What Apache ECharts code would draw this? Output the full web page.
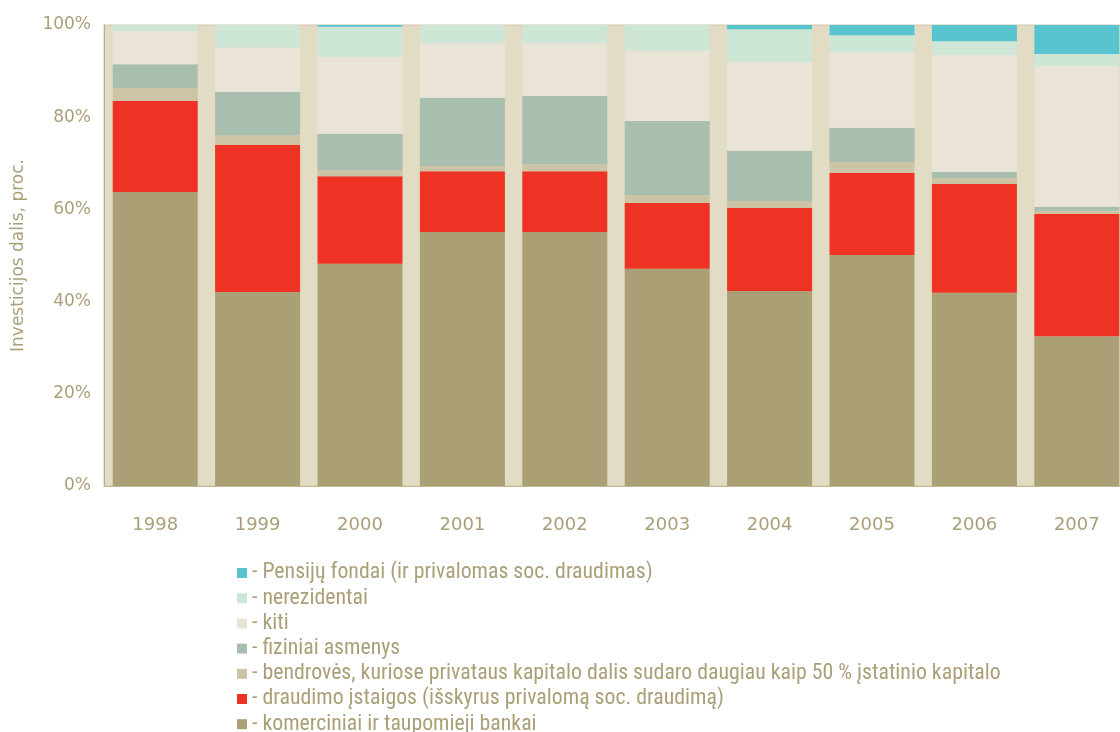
<!DOCTYPE html>
<html><head><meta charset="utf-8">
<script src="https://cdn.jsdelivr.net/npm/echarts@6/dist/echarts.min.js"></script>
<style>html,body{margin:0;padding:0;background:#fff}#c{width:1120px;height:732px}</style>
</head><body><div id="c"></div>
<script>
const years = ['1998','1999','2000','2001','2002','2003','2004','2005','2006','2007'];
const bankai      = [63.8, 42.1, 48.2, 55.1, 55.1, 47.1, 42.3, 50.1, 41.9, 32.5];
const draudimo    = [19.7, 31.9, 19.0, 13.2, 13.2, 14.3, 18.0, 17.8, 23.6, 26.5];
const bendroves   = [ 2.8,  2.1,  1.3,  1.1,  1.5,  1.7,  1.5,  2.4,  1.3,  0.7];
const fiziniai    = [ 5.2,  9.4,  7.9, 14.8, 14.8, 16.1, 10.9,  7.4,  1.3,  0.9];
const kiti        = [ 7.2,  9.6, 16.7, 11.9, 11.5, 15.2, 19.3, 16.4, 25.4, 30.5];
const nerezidentai= [ 1.3,  4.9,  6.5,  3.9,  3.9,  5.6,  7.1,  3.7,  3.0,  2.6];
const pensiju     = [ 0.0,  0.0,  0.4,  0.0,  0.0,  0.0,  0.9,  2.2,  3.5,  6.3];
const yTicks = ['0%','20%','40%','60%','80%','100%'];

const names = {
  pens: 'Pensijų fondai (ir privalomas soc. draudimas)',
  nerez: 'nerezidentai',
  kiti: 'kiti',
  fiz: 'fiziniai asmenys',
  bendr: 'bendrovės, kuriose privataus kapitalo dalis sudaro daugiau kaip 50 % įstatinio kapitalo',
  draud: 'draudimo įstaigos (išskyrus privalomą soc. draudimą)',
  bank: 'komerciniai ir taupomieji bankai'
};
const txt = '#aa9f77';
const mk = (name, data, color) => ({
  name, type: 'bar', stack: 'a', data, barCategoryGap: '17%',
  itemStyle: { color }, emphasis: { disabled: true }
});
const chart = echarts.init(document.getElementById('c'));
chart.setOption({
  animation: false,
  grid: { left: 104, width: 1024, top: 25, bottom: 246, outerBoundsMode: 'none', containLabel: false,
    show: true, backgroundColor: '#e2dcc5', borderColor: '#cfc6ab', borderWidth: 1 },
  legend: {
    orient: 'vertical', left: 232, top: 557, height: 200, itemWidth: 10, itemHeight: 10, itemGap: 3.2,
    icon: 'rect',
    data: [names.pens, names.nerez, names.kiti, names.fiz, names.bendr, names.draud, names.bank],
    formatter: n => '- ' + n,
    textStyle: { color: txt, fontSize: 21.8, lineHeight: 20, fontFamily: '"Roboto Condensed", "Liberation Sans Narrow", sans-serif' }
  },
  xAxis: {
    type: 'category', data: years,
    axisLine: { lineStyle: { color: '#c3b991', width: 1 } },
    axisTick: { show: false },
    axisLabel: { color: txt, fontSize: 18, margin: 30, fontFamily: '"DejaVu Sans", sans-serif' }
  },
  yAxis: {
    type: 'value', min: 0, max: 100, interval: 20,
    name: 'Investicijos dalis, proc.', nameLocation: 'middle', nameGap: 77,
    nameTextStyle: { color: txt, fontSize: 17, fontFamily: '"DejaVu Sans", sans-serif' },
    axisLine: { show: true, lineStyle: { color: '#b8ad85', width: 1 } },
    axisTick: { show: false },
    splitLine: { show: false },
    axisLabel: { color: txt, fontSize: 17, margin: 13, fontFamily: '"DejaVu Sans", sans-serif',
      formatter: v => yTicks[Math.round(v / 20)] }
  },
  series: [
    mk(names.bank, bankai, '#ab9f76'),
    mk(names.draud, draudimo, '#ee3224'),
    mk(names.bendr, bendroves, '#cdc4a5'),
    mk(names.fiz, fiziniai, '#a8bfaf'),
    mk(names.kiti, kiti, '#eae4d8'),
    mk(names.nerez, nerezidentai, '#cde6d6'),
    mk(names.pens, pensiju, '#58c4d0')
  ]
});
</script></body></html>
